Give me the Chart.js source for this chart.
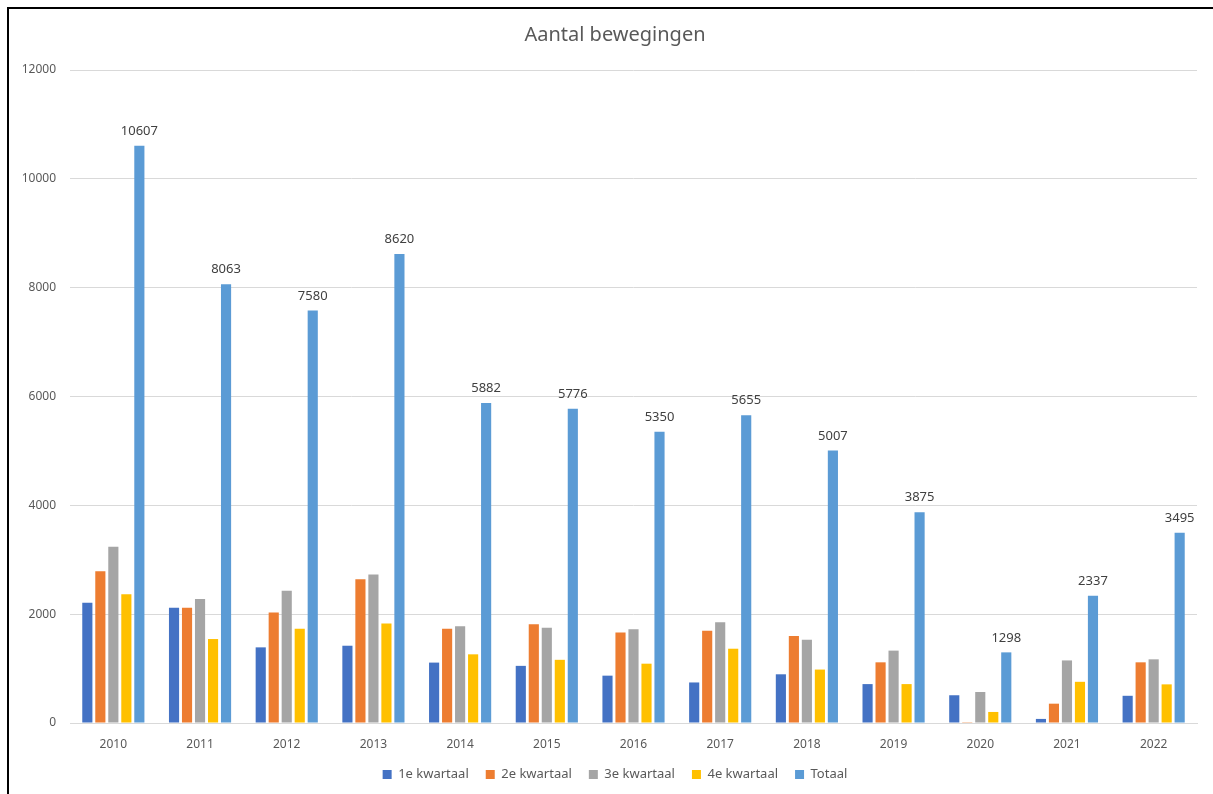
<!DOCTYPE html>
<html lang="nl">
<head>
<meta charset="UTF-8">
<title>Aantal bewegingen</title>
<script src="https://cdn.jsdelivr.net/npm/chart.js"></script>
<style>
  html, body { margin: 0; padding: 0; width: 1213px; height: 794px; overflow: hidden; background: #fff; }
  .frame { position: absolute; left: 7px; top: 7px; width: 1300px; height: 900px; border: 2px solid #000; pointer-events: none; }
  .wrap { position: absolute; left: 0; top: 0; width: 1213px; height: 794px; }
</style>
</head>
<body>
<div class="wrap"><canvas id="grafiek"></canvas></div>
<div class="frame"></div>
<script>
// jaren en waarden per kwartaal
const jaren = ['2010', '2011', '2012', '2013', '2014', '2015', '2016', '2017', '2018', '2019', '2020', '2021', '2022'];
const kwartaal1 = [2210, 2120, 1390, 1420, 1110, 1050, 870, 745, 895, 715, 510, 75, 500];
const kwartaal2 = [2790, 2120, 2030, 2640, 1730, 1815, 1665, 1695, 1600, 1115, 15, 355, 1115];
const kwartaal3 = [3240, 2280, 2430, 2730, 1780, 1750, 1725, 1850, 1530, 1330, 570, 1150, 1170];
const kwartaal4 = [2367, 1543, 1730, 1830, 1262, 1161, 1090, 1365, 982, 715, 203, 757, 710];
const totaal = [10607, 8063, 7580, 8620, 5882, 5776, 5350, 5655, 5007, 3875, 1298, 2337, 3495];
const yTicks = [0, 2000, 4000, 6000, 8000, 10000, 12000];

const tekstKleur = '#595959';
const lettertype = "'Noto Sans', 'Open Sans', sans-serif";

// labels boven de Totaal-staven
const totaalLabels = {
  id: 'totaalLabels',
  afterDatasetsDraw(chart) {
    const ctx = chart.ctx;
    const meta = chart.getDatasetMeta(4);
    ctx.save();
    ctx.font = '13px ' + lettertype;
    ctx.fillStyle = '#404040';
    ctx.textAlign = 'center';
    ctx.textBaseline = 'bottom';
    meta.data.forEach((bar, i) => {
      ctx.fillText(totaal[i], bar.x, bar.y - 8);
    });
    ctx.restore();
  }
};

// y-as labels mogen links buiten de as-box vallen (anders worden ze afgeknipt)
const yAsRuimte = {
  id: 'yAsRuimte',
  afterLayout(chart) {
    chart.scales.y.left = 0;
  }
};

function reeks(label, data, kleur) {
  return {
    label: label,
    data: data,
    backgroundColor: kleur,
    borderWidth: 0,
    categoryPercentage: 0.75,
    barPercentage: 0.78
  };
}

new Chart(document.getElementById('grafiek'), {
  type: 'bar',
  data: {
    labels: jaren,
    datasets: [
      reeks('1e kwartaal', kwartaal1, '#4472C4'),
      reeks('2e kwartaal', kwartaal2, '#ED7D31'),
      reeks('3e kwartaal', kwartaal3, '#A5A5A5'),
      reeks('4e kwartaal', kwartaal4, '#FFC000'),
      reeks('Totaal', totaal, '#5B9BD5')
    ]
  },
  options: {
    responsive: true,
    maintainAspectRatio: false,
    animation: false,
    layout: { padding: { left: 33, right: 16, top: 0, bottom: 3 } },
    plugins: {
      title: {
        display: true,
        text: 'Aantal bewegingen',
        color: tekstKleur,
        font: { family: lettertype, size: 20, weight: 'normal' },
        padding: { top: 23, bottom: 23 }
      },
      legend: {
        position: 'bottom',
        labels: {
          color: tekstKleur,
          font: { family: lettertype, size: 13 },
          boxWidth: 9,
          boxHeight: 9,
          padding: 17
        }
      },
      tooltip: { enabled: false }
    },
    scales: {
      x: {
        grid: { display: false, drawTicks: false },
        border: { display: true, color: '#D9D9D9' },
        ticks: { color: tekstKleur, font: { family: lettertype, size: 12 }, padding: 14 },
        afterFit(s) { s.height = 28; }
      },
      y: {
        min: 0,
        max: 12000,
        afterBuildTicks(s) { s.ticks = yTicks.map(v => ({ value: v })); },
        grid: { color: '#D9D9D9', drawTicks: false },
        border: { display: false },
        ticks: {
          color: tekstKleur,
          font: { family: lettertype, size: 12 },
          padding: 14,
          callback: v => String(v)
        },
        afterFit(s) { s.width = 37; }
      }
    }
  },
  plugins: [totaalLabels, yAsRuimte]
});
</script>
</body>
</html>
